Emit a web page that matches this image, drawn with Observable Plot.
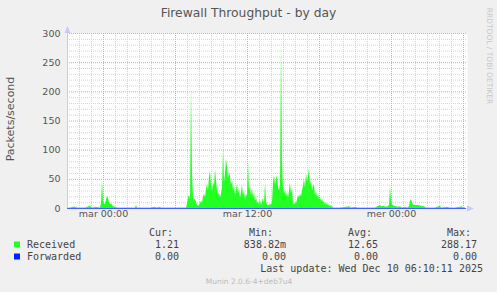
<!DOCTYPE html>
<html><head><meta charset="utf-8">
<script src="https://cdn.jsdelivr.net/npm/d3@7"></script>
<script src="https://cdn.jsdelivr.net/npm/@observablehq/plot@0.6"></script>
<style>
html,body{margin:0;padding:0;background:#f0f0f0;}
#chart{width:497px;height:292px;}
</style></head><body><div id="chart"></div>
<script>
const title = "Firewall Throughput - by day";
const yLabel = "Packets/second";
// sample times: minutes after Tue 9 Dec 2025 (mar) 00:00
const minutes = [-180,-165,-145,-130,-90,-65,-55,-35,-15,-10,-5,0,5,10,15,20,25,30,35,40,45,50,60,70,85,110,135,160,165,170,210,235,260,265,285,290,310,360,385,415,
420,425,430,435,440,445,450,455,460,465,470,475,480,485,490,495,500,505,510,515,520,525,530,535,540,545,550,555,560,565,570,575,580,585,590,595,600,605,610,615,620,625,630,635,640,645,650,655,660,665,670,675,680,685,690,695,700,705,710,715,720,725,730,735,740,745,750,755,760,765,770,775,780,785,790,795,800,805,810,815,820,825,830,835,840,845,850,855,860,865,870,875,880,885,890,895,900,905,910,915,920,925,930,935,940,945,950,955,960,965,970,975,980,985,990,995,1000,1005,1010,1015,1020,1025,1030,1035,1040,1045,1050,1055,1060,1065,1070,1075,1080,1085,1090,1095,1100,1105,1110,1115,1120,1125,1130,1135,1140,1145,1150,
1185,1215,1230,1240,1265,1270,1310,1360,1385,1390,1405,1410,1425,1430,1435,1440,1445,1455,1465,1475,1485,1495,1510,1520,1530,1535,1540,1545,1550,1560,1575,1590,1605,1615,1635,1660,1685,1690,1725,1730,1760,1795,1800,1810];
const received = [0.9,1,2.5,1,1,4,1,2,1,8,47,12,8,6,14,21,17,9,7,8,5,3,2,1,1,1,1,1,5,1,1,1,2,1,2,1,1,1,1,1,
8,18,22,15,210,60,18,14,16,10,6,4,5,8,12,10,20,25,18,32,42,30,55,63,40,28,45,38,66,48,30,22,28,18,25,35,100,45,60,85,70,50,62,55,40,48,30,38,22,30,42,25,35,18,28,40,22,30,15,25,20,80,30,38,22,35,18,28,12,20,8,12,6,15,5,10,18,8,44,12,5,6,4,8,5,10,45,57,40,50,56,35,30,40,288,80,35,25,32,20,28,18,30,44,25,35,8,6,10,8,15,22,18,25,20,30,38,50,35,60,45,55,68,40,49,30,38,40,22,30,18,25,15,20,12,16,10,12,6,10,5,8,3,6,2,4,1,
1,2,3,1,2,1,1,1,5,3,4,2,3,6,38,12,6,4,3,2,3,1,2,1,3,12,16,10,6,5,5,4,3,1,1,1,4,1,2,1,1,3,1,1.21];
const forwardedMinutes = [-180, 1810];
const forwarded = [0, 0];
const xDomainMinutes = [-180, 1820];
const xTickMinutes = [0, 720, 1440];
const xTickLabels = ["mar 00:00", "mar 12:00", "mer 00:00"];
const yTicks = [0, 50, 100, 150, 200, 250, 300];
const seriesNames = ["Received", "Forwarded"];
const seriesColors = ["#22ff22", "#0022ff"];
const statHeaders = ["Cur:", "Min:", "Avg:", "Max:"];
const receivedStats = ["1.21", "838.82m", "12.65", "288.17"];
const forwardedStats = ["0.00", "0.00", "0.00", "0.00"];
const lastUpdate = "Last update: Wed Dec 10 06:10:11 2025";
const footer = "Munin 2.0.6-4+deb7u4";
const watermark = "RRDTOOL / TOBI OETIKER";

const base = Date.UTC(2025, 11, 9);
const toDate = m => new Date(base + m * 60000);
const recData = minutes.map((m, i) => ({date: toDate(m), v: received[i]}));
const fwdData = forwardedMinutes.map((m, i) => ({date: toDate(m), v: forwarded[i]}));
const hourTicks = d3.utcHour.range(toDate(xDomainMinutes[0]), toDate(xDomainMinutes[1]));
const minorX = hourTicks.filter(d => d.getUTCHours() % 6 !== 0);
const majorX = hourTicks.filter(d => d.getUTCHours() % 6 === 0);
const minorY = d3.range(10, 301, 10).filter(v => v % 50 !== 0);
const majorY = yTicks.filter(v => v > 0);

const plot = Plot.plot({
  width: 497, height: 292,
  marginLeft: 67, marginRight: 30, marginTop: 33, marginBottom: 84,
  style: {background: "#f0f0f0", fontFamily: "DejaVu Sans"},
  x: {type: "utc", domain: xDomainMinutes.map(toDate), axis: null},
  y: {domain: [0, 300], axis: null},
  marks: [
    Plot.frame({fill: "white", stroke: null}),
    Plot.ruleY(minorY, {stroke: "#d4d4d4", strokeDasharray: "1,1"}),
    Plot.ruleX(minorX, {stroke: "#d4d4d4", strokeDasharray: "1,1"}),
    Plot.ruleY(majorY, {stroke: "#e8a0a0", strokeDasharray: "1,1"}),
    Plot.ruleX(majorX, {stroke: "#e8a0a0", strokeDasharray: "1,1"}),
    Plot.areaY(recData, {x: "date", y: "v", fill: seriesColors[0], curve: "linear"}),
    Plot.lineY(fwdData, {x: "date", y: "v", stroke: "#4060ff", strokeWidth: 1}),
    Plot.text(yTicks, {y: d => d, text: d => String(d), frameAnchor: "left", textAnchor: "end", dx: -7, fontSize: 9.5, fill: "#555"}),
    Plot.text(xTickMinutes, {x: d => toDate(d), text: (d, i) => xTickLabels[i], frameAnchor: "bottom", dy: 8, fontSize: 9.5, fill: "#555"})
  ]
});
document.getElementById("chart").appendChild(plot);

const svg = d3.select(plot);
const ax = "#c8c8ff";
// axes with arrows
svg.append("line").attr("x1", 67.5).attr("x2", 67.5).attr("y1", 208).attr("y2", 30).attr("stroke", ax);
svg.append("path").attr("d", "M64.5,33 L67.5,26 L70.5,33 Z").attr("fill", ax);
svg.append("line").attr("x1", 67).attr("x2", 470).attr("y1", 208.5).attr("y2", 208.5).attr("stroke", ax).lower();
svg.append("path").attr("d", "M467,205.5 L474,208.5 L467,211.5 Z").attr("fill", ax);

const txt = (x, y, s, opts = {}) => svg.append("text").attr("x", x).attr("y", y).text(s)
  .attr("font-family", opts.family || "DejaVu Sans").attr("font-size", opts.size || 10)
  .attr("fill", opts.fill || "#444").attr("text-anchor", opts.anchor || "start");

txt(248.5, 17, title, {size: 12.3, anchor: "middle", fill: "#555"});
svg.append("text").attr("transform", "translate(14,119) rotate(-90)").attr("text-anchor", "middle")
  .attr("font-family", "DejaVu Sans").attr("font-size", 11).attr("fill", "#555").text(yLabel);
svg.append("text").attr("transform", "translate(487,56) rotate(90)").attr("text-anchor", "middle")
  .attr("font-family", "DejaVu Sans").attr("font-size", 7.5).attr("fill", "#c8c8c8").text(watermark);

const mono = {family: "DejaVu Sans Mono", size: 10, fill: "#444"};
const headerX = [149, 249, 348, 447];
const valueX = [179, 286, 378, 477];
statHeaders.forEach((h, i) => txt(headerX[i], 236, h, mono));
[receivedStats, forwardedStats].forEach((stats, r) => {
  const y = 248 + r * 12;
  svg.append("rect").attr("x", 14).attr("y", y - 6.5).attr("width", 6).attr("height", 6).attr("fill", seriesColors[r]);
  txt(27, y, seriesNames[r], mono);
  stats.forEach((s, i) => txt(valueX[i], y, s, {...mono, anchor: "end"}));
});
txt(483, 272, lastUpdate, {...mono, anchor: "end"});
txt(249, 284, footer, {size: 7.5, anchor: "middle", fill: "#bbb"});
</script></body></html>
